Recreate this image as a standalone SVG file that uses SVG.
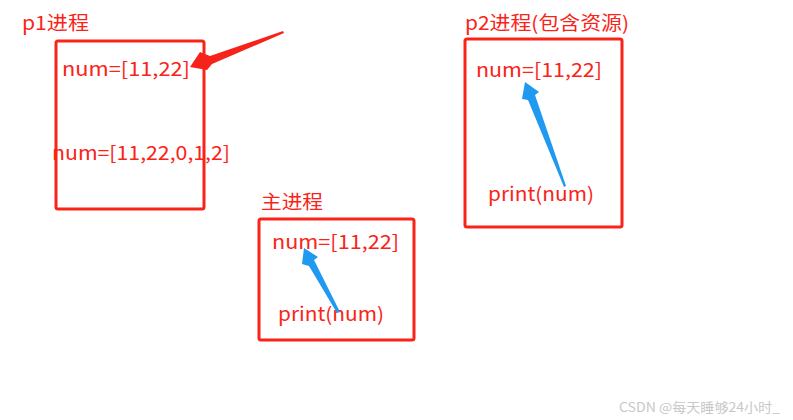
<svg xmlns="http://www.w3.org/2000/svg" width="793" height="420" viewBox="0 0 793 420">
<style>
.box{fill:none;stroke:#fa2318;stroke-width:3}
.t{font-family:"Noto Sans CJK SC","Noto Sans",sans-serif;font-size:19px;fill:#fa2318}
.wm{font-family:"Noto Sans CJK SC","Noto Sans",sans-serif;font-size:13px;fill:#c8c8c8}
.red{fill:#f5231a}
.blue{fill:#1f9af0}
</style>
<rect width="793" height="420" fill="#ffffff"/>
<g id="p1">
<text class="t" x="22" y="30" textLength="67" lengthAdjust="spacingAndGlyphs">p1进程</text>
<rect class="box" x="56" y="41" width="148" height="168" rx="2"/>
<text class="t" x="62" y="76" textLength="128" lengthAdjust="spacingAndGlyphs">num=[11,22]</text>
<text class="t" x="52" y="160" textLength="178" lengthAdjust="spacingAndGlyphs">num=[11,22,0,1,2]</text>
</g>
<g id="p2">
<text class="t" x="465" y="30" textLength="164" lengthAdjust="spacingAndGlyphs">p2进程(包含资源)</text>
<rect class="box" x="465" y="39" width="157" height="188" rx="2"/>
<text class="t" x="476" y="77" textLength="126" lengthAdjust="spacingAndGlyphs">num=[11,22]</text>
<text class="t" x="488" y="201" textLength="106" lengthAdjust="spacingAndGlyphs">print(num)</text>
</g>
<g id="main">
<text class="t" x="261" y="209" textLength="62" lengthAdjust="spacingAndGlyphs">主进程</text>
<rect class="box" x="259" y="219" width="155" height="121" rx="2"/>
<text class="t" x="272" y="249" textLength="127" lengthAdjust="spacingAndGlyphs">num=[11,22]</text>
<text class="t" x="278" y="321" textLength="106" lengthAdjust="spacingAndGlyphs">print(num)</text>
</g>
<g id="connectors">
<polygon class="red" points="283,31 210,56 200,52 190,67 207,70 212,64 284,33"/>
<polygon class="blue" points="525,82 539,92 535,95 566,186 564,187 528,100 522,99"/>
<polygon class="blue" points="304,248 318,257 314,260 340,312 337,313 309,266 302,264"/>
</g>
<text class="wm" x="619" y="412" textLength="161" lengthAdjust="spacingAndGlyphs">CSDN @每天睡够24小时_</text>
</svg>
